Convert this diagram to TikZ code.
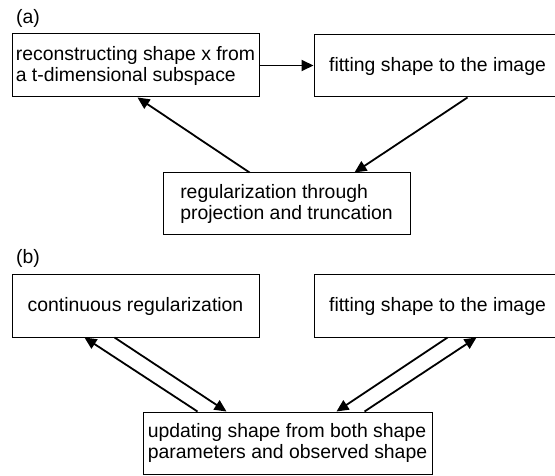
\documentclass[tikz,border=0pt]{standalone}
\usepackage{fontspec}
\setmainfont{Liberation Sans}
\usetikzlibrary{arrows.meta,calc}
\begin{document}
\begin{tikzpicture}[x=1pt,y=-1pt,
  box/.style={draw, line width=1pt, minimum width=247pt, minimum height=62pt, align=left, inner sep=0pt, font=\fontsize{19.4}{21}\selectfont},
  lbl/.style={inner sep=0pt, font=\fontsize{19.4}{21}\selectfont},
  arr/.style={line width=1.8pt, -{Triangle[length=12pt,width=11pt]}}]
\useasboundingbox (0,0) rectangle (555,476);
\clip (0,0) rectangle (555,476);
% (a)
\node[lbl] (la) at (28,18) {(a)};
\node[box, minimum height=63pt] (A1) at (135.5,65.5) {reconstructing shape x from\\a t-dimensional subspace};
\node[box] (A2) at (437.5,66) {fitting shape to the image};
\node[box] (A3) at (286.5,204) {regularization through\\projection and truncation};
\draw[arr] (A1.east) -- (A1.east -| A2.west);
\draw[arr] ($(A2.south west)+(154,0)$) -- ($(A3.north west)+(192,0)$);
\draw[arr] ($(A3.north west)+(87,0)$) -- ($(A1.south west)+(126,0)$);
% (b)
\node[lbl] (lb) at (28,258) {(b)};
\node[box] (B1) at (135.5,306) {continuous regularization};
\node[box] (B2) at (437.5,306) {fitting shape to the image};
\node[box, minimum width=289pt] (B3) at (287.5,443) {updating shape from both shape\\parameters and observed shape};
\draw[arr] ($(B1.south west)+(103,0)$) -- ($(B3.north west)+(84,0)$);
\draw[arr] ($(B3.north west)+(55,0)$) -- ($(B1.south west)+(73,0)$);
\draw[arr] ($(B2.south west)+(134,0)$) -- ($(B3.north west)+(194,0)$);
\draw[arr] ($(B3.north west)+(222,0)$) -- ($(B2.south west)+(163,0)$);
\end{tikzpicture}
\end{document}
